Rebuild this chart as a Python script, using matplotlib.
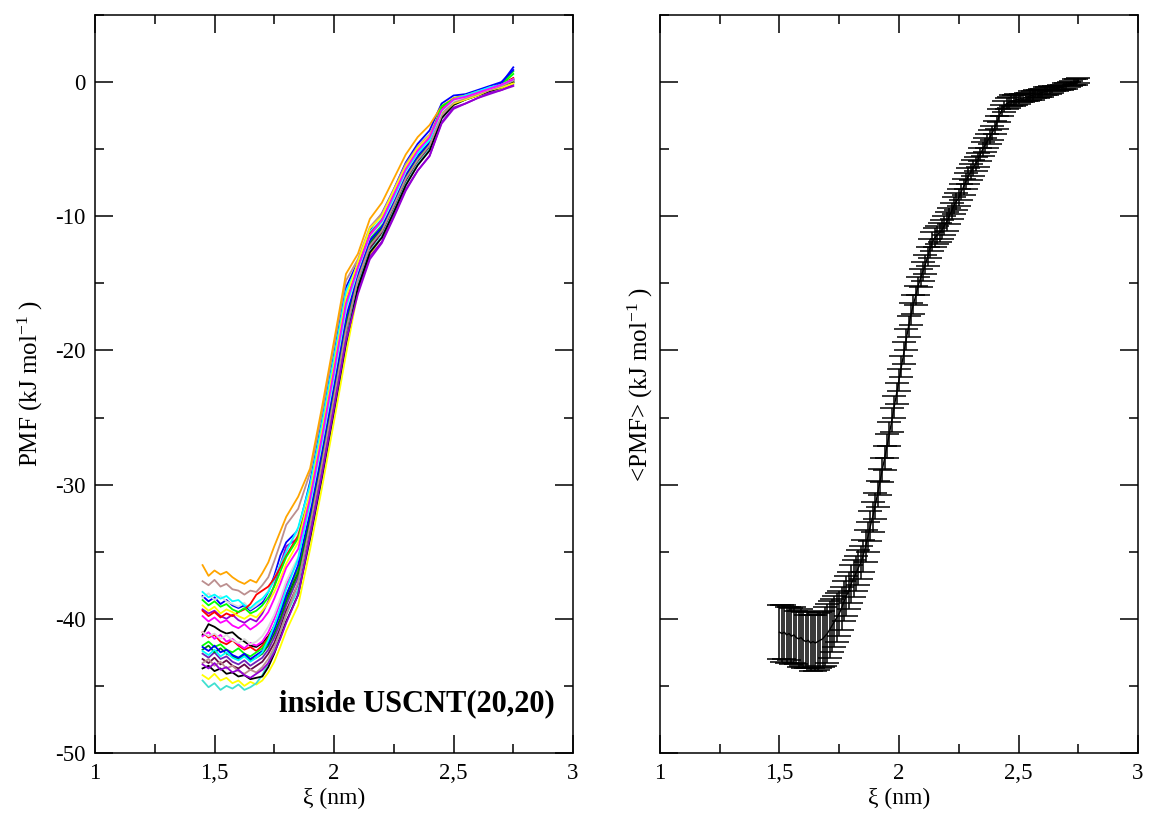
import numpy as np
import matplotlib
matplotlib.use("Agg")
import matplotlib.pyplot as plt
from matplotlib.ticker import MultipleLocator, FuncFormatter

plt.rcParams["font.family"] = ["Liberation Serif", "DejaVu Serif"]
plt.rcParams["mathtext.fontset"] = "custom"
plt.rcParams["mathtext.rm"] = "Liberation Serif"
plt.rcParams["mathtext.it"] = "Liberation Serif:italic"

# --- individual PMF runs (left panel) ---
xi_runs = [1.45, 1.475, 1.5, 1.525, 1.55, 1.575, 1.6, 1.625, 1.65, 1.675, 1.7, 1.725,
           1.75, 1.775, 1.8, 1.85, 1.9, 1.95, 2.0, 2.05, 2.1, 2.15, 2.2, 2.25, 2.3,
           2.35, 2.4, 2.45, 2.5, 2.55, 2.6, 2.65, 2.7, 2.75]

run_colors = ["#000000", "#ff0000", "#00ff00", "#0000ff", "#ffff00", "#bc8f8f",
              "#dcdcdc", "#9400d3", "#00ffff", "#ff00ff", "#ffa500", "#7221bc",
              "#670748", "#40e0d0", "#008b00", "#000000", "#ff0000", "#00ff00",
              "#0000ff", "#ffff00", "#bc8f8f", "#dcdcdc", "#9400d3", "#00ffff",
              "#ff00ff"]

pmf_runs = [
    [-41.2, -40.4, -40.6, -40.9, -41.1, -41.0, -41.4, -41.7, -42.0, -42.1, -41.8, -41.3, -40.6, -39.6, -38.4, -36.6, -33.3, -28.7, -23.8, -18.8, -14.8, -12.4, -11.2, -9.3, -7.4, -5.8, -4.8, -2.6, -1.6, -1.2, -0.9, -0.6, -0.2, 0.2],
    [-41.0, -41.4, -41.2, -41.7, -41.9, -41.6, -42.0, -42.3, -42.1, -42.4, -42.0, -41.4, -40.5, -39.4, -38.2, -36.3, -32.8, -28.2, -23.3, -18.3, -14.6, -12.1, -11.0, -9.2, -7.2, -5.8, -4.7, -2.5, -1.5, -1.2, -0.9, -0.6, -0.3, 0.2],
    [-42.0, -41.7, -42.1, -41.9, -42.3, -42.5, -42.2, -42.6, -42.8, -42.5, -42.2, -41.5, -40.6, -39.5, -38.3, -36.2, -32.3, -27.7, -22.8, -17.8, -14.4, -11.9, -10.8, -9.0, -7.0, -5.6, -4.5, -2.0, -1.2, -1.0, -0.8, -0.5, -0.1, 0.8],
    [-38.3, -38.7, -38.4, -38.9, -38.6, -39.0, -39.2, -39.0, -39.4, -39.1, -38.8, -38.0, -36.8, -35.3, -34.3, -33.4, -29.8, -25.2, -20.3, -15.3, -13.4, -11.0, -9.8, -8.0, -6.0, -4.6, -3.6, -1.6, -1.0, -0.9, -0.6, -0.3, 0.0, 0.9],
    [-44.2, -44.5, -44.1, -44.6, -44.4, -44.8, -44.6, -45.0, -44.7, -44.9, -44.6, -44.0, -43.2, -42.1, -40.9, -39.0, -34.8, -30.2, -25.3, -20.3, -15.6, -12.9, -11.5, -9.6, -7.6, -6.1, -5.0, -2.6, -1.7, -1.3, -1.0, -0.7, -0.5, -0.1],
    [-37.2, -37.5, -37.1, -37.6, -37.4, -37.8, -37.9, -38.2, -37.9, -38.0, -37.5, -36.9, -35.7, -34.4, -33.0, -31.8, -29.1, -24.6, -19.6, -14.8, -13.2, -10.8, -9.8, -8.0, -6.1, -4.8, -3.9, -2.0, -1.3, -1.0, -0.8, -0.4, -0.2, 0.2],
    [-38.4, -38.1, -38.6, -38.3, -38.7, -38.9, -39.1, -38.8, -39.3, -39.0, -38.6, -37.9, -37.0, -35.9, -34.8, -33.5, -30.3, -25.7, -20.8, -15.8, -13.8, -11.3, -10.3, -8.4, -6.5, -5.2, -4.2, -2.2, -1.4, -1.1, -0.8, -0.5, -0.3, 0.1],
    [-39.3, -39.6, -39.4, -39.8, -40.0, -39.7, -40.1, -40.3, -40.0, -40.2, -39.6, -38.7, -37.5, -36.0, -34.6, -34.0, -31.3, -26.7, -22.0, -17.5, -15.5, -13.0, -11.9, -10.0, -8.0, -6.6, -5.5, -3.0, -1.9, -1.6, -1.2, -0.9, -0.6, -0.2],
    [-38.0, -38.4, -38.2, -38.5, -38.3, -38.7, -38.6, -39.0, -39.2, -38.8, -38.5, -38.0, -37.1, -36.0, -35.0, -33.2, -30.0, -25.4, -20.5, -15.6, -13.6, -11.2, -10.2, -8.4, -6.4, -5.1, -4.1, -2.1, -1.3, -1.1, -0.8, -0.5, -0.2, 0.2],
    [-41.3, -41.0, -41.5, -41.2, -41.7, -41.5, -41.9, -42.2, -41.8, -42.0, -41.7, -41.0, -40.0, -38.8, -37.5, -35.6, -31.8, -27.2, -22.3, -17.3, -14.2, -11.7, -10.6, -8.8, -6.8, -5.5, -4.4, -2.3, -1.4, -1.1, -0.8, -0.5, -0.2, 0.3],
    [-36.0, -36.8, -36.4, -36.7, -36.5, -36.9, -37.2, -37.4, -37.1, -37.3, -36.6, -35.8, -34.6, -33.5, -32.4, -30.9, -28.8, -24.2, -19.3, -14.3, -12.8, -10.2, -9.0, -7.2, -5.4, -4.1, -3.2, -1.8, -1.2, -1.0, -0.7, -0.5, -0.2, 0.1],
    [-42.6, -42.9, -42.5, -43.0, -42.8, -43.2, -43.4, -43.1, -43.5, -43.2, -42.9, -42.3, -41.4, -40.3, -39.0, -36.9, -32.8, -28.2, -23.3, -18.3, -14.6, -12.1, -11.0, -9.2, -7.2, -5.8, -4.7, -2.5, -1.5, -1.2, -0.9, -0.6, -0.3, 0.1],
    [-43.0, -43.3, -42.9, -43.4, -43.1, -43.5, -43.7, -43.4, -43.8, -43.5, -43.2, -42.6, -41.8, -40.7, -39.4, -37.4, -33.3, -28.7, -23.8, -18.8, -14.8, -12.4, -11.2, -9.3, -7.3, -5.9, -4.8, -2.6, -1.6, -1.3, -1.0, -0.6, -0.3, 0.0],
    [-44.6, -45.1, -44.8, -45.3, -45.0, -45.2, -44.9, -45.3, -45.1, -44.8, -44.2, -43.3, -42.2, -41.0, -39.7, -37.8, -33.8, -29.2, -24.3, -19.3, -15.1, -12.6, -11.5, -9.6, -7.6, -6.1, -5.0, -2.7, -1.7, -1.3, -1.0, -0.7, -0.4, 0.0],
    [-42.3, -42.0, -42.5, -42.2, -42.6, -42.8, -43.0, -42.7, -43.1, -42.9, -42.6, -42.0, -41.1, -40.0, -38.7, -36.6, -32.6, -28.0, -23.1, -18.1, -14.5, -12.0, -10.9, -9.1, -7.1, -5.7, -4.6, -2.4, -1.5, -1.2, -0.9, -0.6, -0.3, 0.1],
    [-43.7, -43.5, -43.9, -43.7, -44.1, -44.0, -44.3, -44.2, -44.5, -44.4, -44.3, -43.6, -42.6, -41.4, -40.2, -38.2, -34.0, -29.4, -24.5, -19.5, -15.3, -12.7, -11.6, -9.7, -7.7, -6.2, -5.1, -2.7, -1.7, -1.3, -1.0, -0.7, -0.4, 0.0],
    [-39.4, -39.8, -39.5, -39.9, -39.6, -39.8, -39.5, -39.3, -38.9, -38.2, -37.9, -37.6, -37.0, -36.2, -35.3, -33.8, -30.8, -26.2, -21.3, -16.3, -13.8, -11.3, -10.3, -8.5, -6.5, -5.2, -4.2, -2.0, -1.3, -1.1, -0.8, -0.5, -0.2, 0.3],
    [-38.6, -39.0, -38.7, -39.1, -38.9, -39.3, -39.5, -39.2, -39.6, -39.4, -39.0, -38.4, -37.6, -36.5, -35.4, -34.0, -30.8, -26.2, -21.3, -16.3, -14.0, -11.6, -10.6, -8.6, -6.8, -5.4, -4.4, -1.8, -1.3, -1.1, -0.9, -0.5, -0.2, 0.6],
    [-42.1, -42.4, -42.0, -42.5, -42.3, -42.7, -42.9, -42.6, -43.0, -42.7, -42.4, -41.8, -40.8, -39.6, -38.3, -36.0, -32.1, -27.5, -22.6, -17.6, -14.3, -11.8, -10.8, -8.9, -6.9, -5.5, -4.5, -2.3, -1.4, -1.1, -0.8, -0.5, -0.1, 1.1],
    [-39.0, -39.4, -39.1, -39.6, -39.3, -39.5, -39.8, -40.0, -39.7, -39.9, -39.4, -38.8, -38.0, -37.0, -35.9, -34.3, -30.6, -26.0, -21.1, -16.1, -13.4, -10.9, -10.0, -8.1, -6.3, -4.9, -4.0, -2.4, -1.6, -1.3, -1.0, -0.6, -0.4, -0.1],
    [-43.3, -43.0, -43.5, -43.2, -43.7, -43.5, -43.9, -44.1, -43.8, -44.0, -43.6, -43.0, -42.1, -41.0, -39.7, -37.3, -33.0, -28.4, -23.5, -18.5, -14.7, -12.2, -11.1, -9.2, -7.2, -5.8, -4.7, -2.5, -1.5, -1.2, -0.9, -0.6, -0.3, 0.1],
    [-41.0, -41.3, -41.1, -41.5, -41.2, -41.6, -41.8, -41.5, -41.9, -41.7, -41.3, -40.6, -39.7, -38.5, -37.2, -35.4, -31.5, -26.9, -22.0, -17.0, -14.0, -11.5, -10.5, -8.7, -6.7, -5.3, -4.3, -2.2, -1.4, -1.1, -0.8, -0.5, -0.2, 0.2],
    [-43.4, -43.7, -43.3, -43.8, -43.6, -44.0, -43.8, -44.2, -44.4, -44.1, -43.8, -43.3, -42.5, -41.5, -40.3, -38.2, -33.8, -29.2, -24.3, -19.3, -15.8, -13.2, -12.0, -10.1, -8.1, -6.6, -5.5, -3.1, -2.0, -1.6, -1.2, -0.8, -0.6, -0.3],
    [-42.4, -42.7, -42.3, -42.8, -42.5, -42.9, -43.1, -42.8, -43.2, -42.9, -42.5, -41.6, -40.5, -39.2, -37.8, -35.5, -31.3, -26.7, -21.8, -16.8, -13.9, -11.4, -10.4, -8.6, -6.6, -5.3, -4.3, -2.1, -1.3, -1.0, -0.7, -0.4, -0.2, 0.2],
    [-39.8, -40.2, -39.9, -40.3, -40.1, -40.5, -40.7, -40.4, -40.8, -40.5, -40.1, -39.5, -38.5, -37.4, -36.2, -34.8, -31.0, -26.4, -21.5, -16.5, -13.8, -11.4, -10.3, -8.4, -6.5, -5.1, -4.1, -2.1, -1.3, -1.1, -0.8, -0.5, -0.2, 0.2],
]

# --- averaged PMF with error bars (right panel), 0.01 nm sampling ---
xi_mean = np.linspace(1.50, 2.75, 126)
pmf_mean = [
    -41.0, -41.1, -41.0, -41.2, -41.1, -41.3, -41.2, -41.4, -41.5, -41.4,
    -41.6, -41.7, -41.6, -41.8, -41.7, -41.8, -41.7, -41.6, -41.5, -41.3,
    -41.1, -40.8, -40.5, -40.2, -39.9, -39.6, -39.2, -38.7, -38.3, -37.9,
    -37.4, -37.0, -36.6, -36.2, -35.8, -35.3, -34.6, -33.9, -33.1, -32.4,
    -31.6, -30.7, -29.8, -28.9, -28.0, -27.1, -26.2, -25.2, -24.2, -23.2,
    -22.2, -21.2, -20.2, -19.2, -18.2, -17.3, -16.6, -15.9, -15.2, -14.6,
    -14.1, -13.6, -13.0, -12.4, -11.9, -11.6, -11.4, -11.2, -11.0, -10.7,
    -10.4, -10.0, -9.6, -9.2, -8.9, -8.6, -8.2, -7.8, -7.4, -7.0,
    -6.7, -6.4, -6.1, -5.8, -5.4, -5.0, -4.7, -4.4, -4.1, -3.8,
    -3.4, -3.0, -2.5, -2.1, -1.8, -1.6, -1.5, -1.4, -1.4, -1.3,
    -1.3, -1.2, -1.2, -1.1, -1.1, -1.0, -1.0, -0.9, -0.9, -0.8,
    -0.8, -0.7, -0.7, -0.6, -0.6, -0.5, -0.5, -0.4, -0.4, -0.3,
    -0.3, -0.2, -0.1, 0.0, 0.0, 0.1,
]
pmf_err = [
    2.0, 2.1, 2.0, 2.1, 2.0, 2.1, 2.1, 2.0, 2.1, 2.1,
    2.1, 2.0, 2.1, 2.1, 2.0, 2.1, 2.1, 2.1, 2.1, 2.2,
    2.2, 2.1, 2.0, 1.9, 1.8, 1.7, 1.6, 1.5, 1.5, 1.4,
    1.4, 1.4, 1.3, 1.3, 1.2, 1.2, 1.2, 1.1, 1.1, 1.1,
    1.0, 1.0, 1.0, 0.9, 0.9, 0.9, 0.9, 0.9, 0.8, 0.8,
    0.8, 0.8, 0.8, 0.8, 0.8, 0.8, 0.7, 0.7, 0.7, 0.7,
    0.7, 0.7, 0.7, 0.7, 0.7, 0.7, 0.7, 0.7, 0.7, 0.7,
    0.7, 0.6, 0.6, 0.6, 0.6, 0.6, 0.6, 0.6, 0.6, 0.6,
    0.6, 0.6, 0.5, 0.5, 0.5, 0.5, 0.5, 0.5, 0.5, 0.5,
    0.5, 0.5, 0.5, 0.4, 0.4, 0.4, 0.4, 0.4, 0.4, 0.4,
    0.3, 0.3, 0.3, 0.3, 0.3, 0.3, 0.3, 0.3, 0.3, 0.3,
    0.3, 0.3, 0.3, 0.3, 0.2, 0.2, 0.2, 0.2, 0.2, 0.2,
    0.2, 0.2, 0.2, 0.2, 0.2, 0.2,
]


def style_axes(ax, show_ylabels=True):
    ax.set_xlim(1, 3)
    ax.set_ylim(-50, 5)
    ax.xaxis.set_major_locator(MultipleLocator(0.5))
    ax.xaxis.set_minor_locator(MultipleLocator(0.25))
    ax.yaxis.set_major_locator(MultipleLocator(10))
    ax.yaxis.set_minor_locator(MultipleLocator(5))
    ax.xaxis.set_major_formatter(FuncFormatter(lambda v, _: f"{v:g}".replace(".", ",")))
    ax.yaxis.set_major_formatter(FuncFormatter(lambda v, _: f"{v:g}"))
    ax.tick_params(which="both", direction="in", top=True, right=True, width=1.1)
    ax.tick_params(which="major", length=13, labelsize=16.5, pad=7)
    ax.tick_params(which="minor", length=6.5)
    if not show_ylabels:
        ax.tick_params(axis="y", labelleft=False)
    for sp in ax.spines.values():
        sp.set_linewidth(1.1)
    ax.set_xlabel("ξ (nm)", fontsize=17, labelpad=3)


fig = plt.figure(figsize=(11.5, 8.23), dpi=100)
ax_l = fig.add_axes([0.0826, 0.0851, 0.4157, 0.8967])
ax_r = fig.add_axes([0.5739, 0.0851, 0.4157, 0.8967])

for vals, c in zip(pmf_runs, run_colors):
    ax_l.plot(xi_runs, vals, color=c, lw=1.3)
style_axes(ax_l)
ax_l.set_ylabel(r"PMF (kJ mol$^{-1}$ )", fontsize=18, labelpad=7)
ax_l.text(2.925, -46.9, "inside USCNT(20,20)", fontsize=22, fontweight="bold",
          ha="right", va="baseline")

ax_r.errorbar(xi_mean, pmf_mean, yerr=pmf_err, color="black", lw=1.0,
              elinewidth=1.1, capsize=8.5, capthick=1.1)
style_axes(ax_r, show_ylabels=False)
ax_r.set_ylabel(r"<PMF> (kJ mol$^{-1}$ )", fontsize=18, labelpad=0)

fig.savefig("out.png", dpi=100)
